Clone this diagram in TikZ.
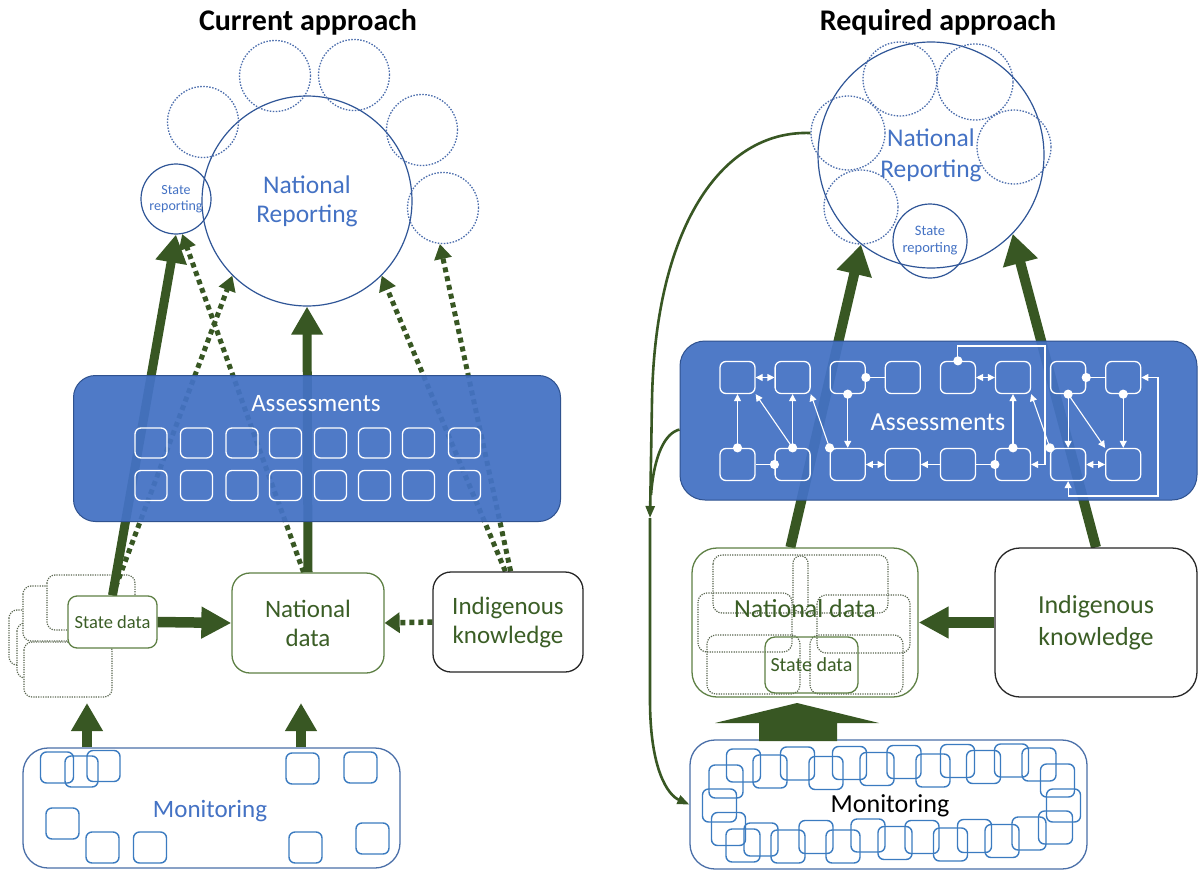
\documentclass[tikz,border=0pt]{standalone}
\usepackage{fontspec}
\setmainfont{Carlito}
\usetikzlibrary{arrows.meta,calc}
\pgfdeclarelayer{back}
\pgfsetlayers{back,main}

\definecolor{arrgreen}{HTML}{385723}
\definecolor{boxgreen}{HTML}{5E8045}
\definecolor{txtgreen}{HTML}{3B5E26}
\definecolor{cardgray}{HTML}{5A6650}
\definecolor{nrblue}{HTML}{4472C4}
\definecolor{edgeblue}{HTML}{2F5597}
\definecolor{dotblue}{HTML}{4C6EAD}
\definecolor{assessfill}{HTML}{4472C4}
\definecolor{assessedge}{HTML}{2F528F}
\definecolor{monedge}{HTML}{4A6FA8}
\definecolor{sqblue}{HTML}{3B7BC0}

\tikzset{
  nrcircle/.style={circle, draw=edgeblue, line width=1.2pt, inner sep=0pt, text=nrblue, align=center},
  dotcircle/.style={circle, draw=dotblue, line width=1.3pt, dash pattern=on 1.5pt off 1.5pt, inner sep=0pt},
  gbox/.style={rectangle, draw=boxgreen, line width=1.3pt, fill=white, text=txtgreen, inner sep=0pt, align=center},
  kbox/.style={rectangle, draw=black!85, line width=1.3pt, fill=white, text=txtgreen, inner sep=0pt, align=center},
  assess/.style={rectangle, draw=assessedge, line width=1pt, fill=assessfill, fill opacity=0.94, inner sep=0pt},
  wsq/.style={rectangle, draw=white, line width=1.3pt, rounded corners=6pt, inner sep=0pt},
  msq/.style={rectangle, draw=sqblue, line width=1.4pt, rounded corners=6pt, inner sep=0pt, minimum width=33pt, minimum height=31pt},
  monbox/.style={rectangle, draw=monedge, line width=1.3pt, rounded corners=25pt, inner sep=0pt},
  carddot/.style={draw=cardgray, line width=1.2pt, dash pattern=on 1.2pt off 1.2pt},
  bigarrow/.style={draw=arrgreen, line width=9pt, -{Triangle[width=30pt,length=28pt]}},
  bigarrowR/.style={draw=arrgreen, line width=10pt, -{Triangle[width=34pt,length=30pt]}},
  bigarrowH/.style={draw=arrgreen, line width=10.5pt, -{Triangle[width=30pt,length=30pt]}},
  dotarrow/.style={draw=arrgreen, line width=5pt, dash pattern=on 5pt off 4pt, -{Triangle[width=17pt,length=15pt]}},
  curvearrow/.style={draw=arrgreen, line width=2.6pt, -{Triangle[width=9pt,length=12pt]}},
  curveline/.style={draw=arrgreen, line width=2.6pt},
  wline/.style={draw=white, line width=1.1pt},
  warr/.style={wline, -{Triangle[width=7pt,length=7pt]}},
  wdbl/.style={wline, {Triangle[width=7pt,length=7pt]}-{Triangle[width=7pt,length=7pt]}},
}

\begin{document}
\begin{tikzpicture}[x=1pt,y=-1pt]
\useasboundingbox (0,0) rectangle (1201,872);
\begin{pgfonlayer}{back}
  \fill[white] (0,0) rectangle (1201,872);
\end{pgfonlayer}

% ---------------- titles
\node[font=\bfseries\fontsize{30}{36}\selectfont] (t1) at (308,22) {Current approach};
\node[font=\bfseries\fontsize{30}{36}\selectfont] (t2) at (938,22) {Required approach};

% ================= CURRENT APPROACH =================
% reporting circles
\node[nrcircle, minimum size=210pt, font=\fontsize{25.5}{29}\selectfont] (nrL) at (307,201) {National\\Reporting};
\node[dotcircle, minimum size=71pt] (dL1) at (203,122) {};
\node[dotcircle, minimum size=71pt] (dL2) at (275,76) {};
\node[dotcircle, minimum size=71pt] (dL3) at (354,75) {};
\node[dotcircle, minimum size=71pt] (dL4) at (422,130) {};
\node[dotcircle, minimum size=71pt] (dL5) at (443,208) {};
\node[nrcircle, minimum size=70pt, font=\fontsize{14}{16}\selectfont] (srL) at (176,199) {State\\reporting};

% assessments panel
\node[assess, rounded corners=22pt, minimum width=487pt, minimum height=146pt] (asL) at (317,448.5) {};
\node[text=white, font=\fontsize{25}{30}\selectfont] (asLt) at (316,404) {Assessments};
\foreach \c [count=\i] in {151,196.5,242,285.5,330.5,374.5,418.5,464.5} {
  \node[wsq, minimum width=32pt, minimum height=30pt] (qa\i) at (\c,443) {};
  \node[wsq, minimum width=32pt, minimum height=30pt] (qb\i) at (\c,485.5) {};
}

% stack of state data cards
\begin{pgfonlayer}{back}
  \foreach \cx/\cy in {53/637.5, 61/650.5, 68/669.5, 67/613.5, 91/602.5} {
    \draw[carddot, fill=white, rounded corners=8pt] (\cx-44,\cy-27.5) rectangle (\cx+44,\cy+27.5);
  }
\end{pgfonlayer}
\node[gbox, rounded corners=9pt, minimum width=89pt, minimum height=52pt, font=\fontsize{18.5}{20}\selectfont] (sdL) at (112.5,622) {State data};

% data boxes
\node[gbox, rounded corners=18pt, minimum width=152pt, minimum height=100pt, font=\fontsize{25}{29}\selectfont] (ndL) at (308,623) {National\\data};
\node[kbox, rounded corners=18pt, minimum width=150pt, minimum height=100pt, font=\fontsize{25}{29}\selectfont] (ikL) at (508,622) {Indigenous\\knowledge};

% monitoring
\node[monbox, minimum width=377pt, minimum height=120pt] (monL) at (211.5,808) {};
\node[text=nrblue, font=\fontsize{25}{30}\selectfont] (monLt) at (210,811) {Monitoring};
\foreach \x/\y [count=\i] in {57/767.5, 81.5/771.5, 103.5/766, 302.5/768.5, 360.5/767.5, 62.5/823.5, 102.5/847.5, 150/847.5, 305.5/847.5, 372.5/838.5} {
  \node[msq] (mL\i) at (\x,\y) {};
}

% arrows
\coordinate (stkL) at (87,703);
\coordinate (ndLb) at (301,703);
\begin{pgfonlayer}{back}
  \draw[dotarrow] (sdL.north) -- (nrL.225);
  \draw[dotarrow] (ndL.95) -- (srL.280);
  \draw[dotarrow] (ikL.93) -- (nrL.315);
  \draw[dotarrow] (ikL.87) -- (dL5.265);
  \draw[bigarrow] (sdL.north) -- (srL.south);
  \draw[bigarrow] (ndL.north) -- (nrL.south);
\end{pgfonlayer}
\draw[bigarrowH] (sdL.east) -- (ndL.west);
\draw[dotarrow, line width=5.5pt, -{Triangle[width=20pt,length=15pt]}] (ikL.west) -- (ndL.east);
\draw[bigarrow, line width=10pt] (monL.north -| stkL) -- (stkL);
\draw[bigarrow, line width=10pt] (monL.north -| ndLb) -- (ndLb);

% ================= REQUIRED APPROACH =================
\node[nrcircle, minimum size=226pt, font=\fontsize{25.5}{31}\selectfont] (nrR) at (931,155) {National\\Reporting};
\node[dotcircle, minimum size=74pt] (dR1) at (900,79) {};
\node[dotcircle, minimum size=76pt] (dR2) at (975,82) {};
\node[dotcircle, minimum size=74pt] (dR3) at (1014,147) {};
\node[dotcircle, minimum size=74pt] (dR4) at (848,133) {};
\node[dotcircle, minimum size=74pt] (dR5) at (861,207) {};
\node[nrcircle, minimum size=74pt, font=\fontsize{14.5}{17}\selectfont] (srR) at (930,241) {State\\reporting};

% assessments network
\node[assess, rounded corners=25pt, minimum width=517pt, minimum height=159pt] (asR) at (938.5,420.5) {};
\node[text=white, font=\fontsize{26}{31}\selectfont] (asRt) at (938,422) {Assessments};
\foreach \c [count=\i] in {737.5,792.6,847.7,902.8,957.9,1013,1068.1,1123.2} {
  \node[wsq, minimum width=35pt, minimum height=32pt] (a\i) at (\c,377.5) {};
  \node[wsq, minimum width=35pt, minimum height=32pt] (b\i) at (\c,464.5) {};
}
\coordinate (lpTop) at (1045,346);
\coordinate (lpR) at (1158,496);
\draw[wdbl] (a1.east) -- (a2.west);
\draw[warr] (b1.north) -- (a1.south);
\draw[wline] (b1.east) -- (b2.west);
\draw[warr] (b2.north) -- (a2.south);
\draw[warr] (b2.north) -- (a1.south east);
\draw[warr] (b3.north west) -- (a2.south east);
\draw[wline] (a3.east) -- (a4.west);
\draw[warr] (a3.south) -- (b3.north);
\draw[wdbl] (b3.east) -- (b4.west);
\draw[warr] (b5.west) -- (b4.east);
\draw[wline] (b6.west) -- (b5.east);
\draw[warr] (b6.north) -- (a6.south);
\draw[wdbl] (a5.east) -- (a6.west);
\draw[warr] (a5.north) |- (lpTop) |- (b6.east);
\draw[warr] (b7.north west) -- (a6.south east);
\draw[wline] (a7.east) -- (a8.west);
\draw[warr] (a7.south) -- (b7.north);
\draw[warr] (a7.south) -- (b8.north west);
\draw[warr] (a8.south) -- (b8.north);
\draw[wdbl] (b7.east) -- (b8.west);
\draw[wdbl] (b7.south) |- (lpR) |- (a8.east);
\foreach \p in {b1.north, b2.west, b2.north, b3.north west, a3.east, a3.south, b6.west, b6.north, a5.north, b7.north west, a7.east, a7.south, a8.south} {
  \fill[white] (\p) circle (4.6pt);
}

% national data with its overlapping sources
\node[gbox, fill=none, rounded corners=25pt, minimum width=226pt, minimum height=149pt] (ndR) at (805,622.5) {};
\draw[carddot, rounded corners=9pt] (713,555) rectangle (888,613);
\draw[carddot, rounded corners=7pt] (793,556) rectangle (808,612);
\draw[carddot, rounded corners=9pt] (698,593) rectangle (792,652);
\draw[carddot, rounded corners=9pt] (817,595) rectangle (910,653);
\draw[carddot, rounded corners=9pt] (707,635) rectangle (800,694);
\draw[carddot, rounded corners=9pt] (810,635) rectangle (903,694);
\node[text=txtgreen, font=\fontsize{26}{31}\selectfont] (ndRt) at (805,609) {National data};
\node[gbox, fill=none, rounded corners=10pt, minimum width=93pt, minimum height=56pt, font=\fontsize{20}{24}\selectfont] (sdR) at (811.5,665) {State data};

\node[kbox, rounded corners=25pt, minimum width=202pt, minimum height=149pt, font=\fontsize{26}{32}\selectfont] (ikR) at (1096,622.5) {Indigenous\\knowledge};

% monitoring ring
\node[monbox, minimum width=397pt, minimum height=129pt] (monR) at (888.5,804.5) {};
\node[font=\fontsize{26}{31}\selectfont] (monRt) at (890,806) {Monitoring};
\foreach \x/\y [count=\i] in {743.5/765.5, 770/771.5, 797.5/763.5, 826/773, 849.5/763, 877/769, 904/762, 933/770.5, 957.5/761, 983.5/767, 1011.5/760.5, 1039/764.5,
  1057.5/780.5, 1063.5/805.5, 1055.5/827.5,
  1029/833.5, 1002/841, 974.5/836, 950.5/844.5, 922/837, 895/843, 868/835.5, 843/846.5, 816/837, 788/846.5, 761/839.5, 743/845.5,
  726/781.5, 719.5/805.5, 728.5/829} {
  \node[msq, minimum width=34pt, minimum height=33pt] (mR\i) at (\x,\y) {};
}

% flows
\begin{pgfonlayer}{back}
  \draw[bigarrowR] (ndR.101) -- (nrR.232);
  \draw[bigarrowR] (ikR.north) -- (nrR.316);
\end{pgfonlayer}
\draw[bigarrowH] (ikR.west) -- (ndR.east);
\fill[arrgreen] (759,741) -- (759,723) -- (715,723) -- (797,703) -- (879,723) -- (837,723) -- (837,741) -- cycle;

\coordinate (cm) at (650,518);
\draw[curvearrow] (dR4.west) .. controls (720,130) and (655,230) .. (652,400) -- (cm);
\draw[curvearrow] (cm) -- (650,700) .. controls (650,770) and (668,795) .. (monR.west);
\draw[curveline] (asR.182) .. controls (665,433) and (654,455) .. (651,495);
\end{tikzpicture}
\end{document}
